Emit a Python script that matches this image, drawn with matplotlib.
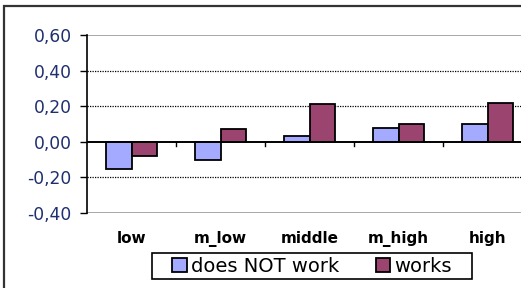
import matplotlib
matplotlib.use("Agg")
import matplotlib.pyplot as plt
from matplotlib.patches import Rectangle
import numpy as np

categories = ["low", "m_low", "middle", "m_high", "high"]
not_work = [-0.15, -0.10, 0.03, 0.08, 0.10]
works = [-0.08, 0.07, 0.21, 0.10, 0.22]
series_names = ["does NOT work", "works"]
yticks = [-0.4, -0.2, 0.0, 0.2, 0.4, 0.6]

W, H = 521, 288
fig = plt.figure(figsize=(W / 100, H / 100), dpi=100)
fig.patch.set_facecolor("white")

ax = fig.add_axes([87 / W, 1 - 213 / H, 1 - 87 / W, (213 - 35) / H])
x = np.arange(len(categories))
bw = 0.292
c_blue = "#A4AAFF"
c_purple = "#9C4470"

# grid lines
for v in [0.4, 0.2, -0.2]:
    ax.axhline(v, color="black", lw=0.9, ls=(0, (1, 1)), zorder=1)
ax.axhline(0.6, color="#a0a0a0", lw=1.3, zorder=1)
ax.axhline(-0.4, color="#a0a0a0", lw=1.3, zorder=1)

ax.bar(x - bw / 2, not_work, bw, color=c_blue, edgecolor="black", lw=1.3,
       label=series_names[0], zorder=3)
ax.bar(x + bw / 2, works, bw, color=c_purple, edgecolor="black", lw=1.3,
       label=series_names[1], zorder=3)

ax.axhline(0, color="black", lw=1.4, zorder=4)
for xb in x[:-1] + 0.5:
    ax.plot([xb, xb], [0, -0.022], color="black", lw=1.0, zorder=4)

ax.set_xlim(-0.5, 4.5 - 11 / 89)
ax.set_ylim(-0.4, 0.6)
for s in ["top", "right", "bottom"]:
    ax.spines[s].set_visible(False)
ax.spines["left"].set_color("black")
ax.spines["left"].set_linewidth(1.2)
ax.spines["left"].set_zorder(5)

ax.set_yticks(yticks)
ax.set_yticklabels([f"{v:.2f}".replace(".", ",") for v in yticks],
                   color="#1f2f70", fontsize=12.3)
ax.tick_params(axis="y", direction="out", length=5, width=1, color="black", pad=6)
ax.set_xticks(x)
ax.set_xticklabels(categories, fontsize=11, fontweight="bold")
ax.tick_params(axis="x", length=0, pad=13)

fig.legend(loc="center", bbox_to_anchor=(312 / W, 1 - 266 / H), ncol=2,
           frameon=False, fontsize=14,
           handlelength=0.75, handleheight=0.7, handletextpad=0.2,
           columnspacing=1.9, borderpad=0.1, borderaxespad=0)

# legend box (Excel-style, wide side padding)
fig.add_artist(Rectangle((152 / W, 1 - 279 / H), (472 - 152) / W, 26 / H,
                         transform=fig.transFigure, fill=False,
                         edgecolor="black", lw=1.2))

fig.add_artist(Rectangle((4 / W, -0.1), 1.2, 1.1 - 6 / H, transform=fig.transFigure,
                         fill=False, edgecolor="#333333", lw=1.6))

fig.savefig("out.png", dpi=100)
